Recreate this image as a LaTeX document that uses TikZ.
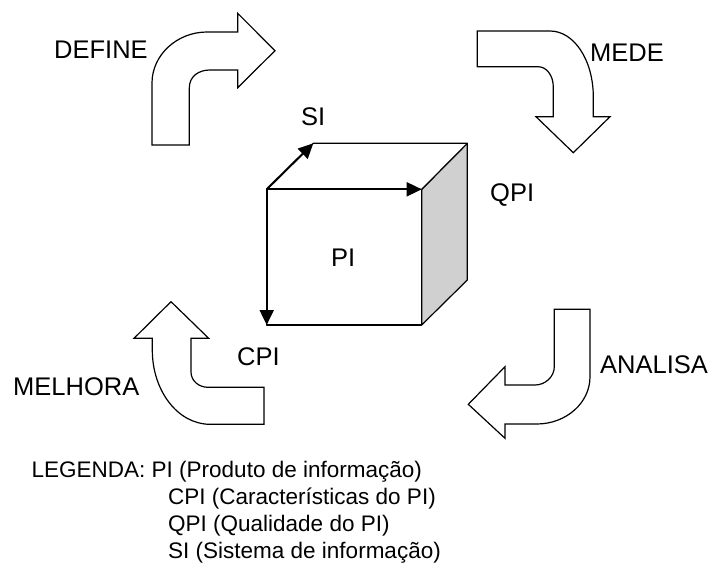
\documentclass[tikz,border=0pt]{standalone}
\usepackage{fontspec}
\setmainfont{Liberation Sans}
\usetikzlibrary{arrows.meta}
\definecolor{facegray}{RGB}{208,208,208}
\begin{document}
\begin{tikzpicture}[x=1pt,y=-1pt,
  bigarrow/.style={draw=black, line width=1.2pt, fill=white, line join=miter},
  cubeedge/.style={draw=black, line width=1.2pt, line join=round},
  axisarrow/.style={draw=black, line width=2pt, -{Triangle[length=15pt,width=14pt]}},
  lbl/.style={font=\fontsize{25.5}{30}\selectfont, inner sep=0pt, anchor=base west},
  leg/.style={font=\fontsize{22.5}{27}\selectfont, inner sep=0pt, anchor=base west}]
\useasboundingbox (0,0) rectangle (712,579);

% DEFINE arrow
\draw[bigarrow] (152,145) -- (152,83)
  .. controls (152,55) and (177,32) .. (207,32)
  -- (237.7,32) -- (237.7,13.3) -- (275,50.7) -- (237.7,87.7) -- (237.7,70)
  -- (210,70) .. controls (199,70) and (189.3,76) .. (189.3,88)
  -- (189.3,145) -- cycle;

% MEDE arrow
\draw[bigarrow] (477.3,31) -- (550,31)
  .. controls (574,31) and (593.3,60) .. (593.3,97)
  -- (593.3,116.7) -- (610,116.7) -- (573.3,152.7) -- (536,116.7) -- (553.3,116.7)
  -- (553.3,87) .. controls (553.3,76) and (547,66.7) .. (538,66.7)
  -- (477.3,66.7) -- cycle;

% ANALISA arrow
\draw[bigarrow] (554.3,309.3) -- (590,309.3) -- (590,376.7)
  .. controls (590,403) and (566,424) .. (536.7,424)
  -- (505,424) -- (505,438.3) -- (468.3,404.3) -- (505,366.7) -- (505,385)
  -- (535,385) .. controls (545,385) and (554.3,377) .. (554.3,366.7)
  -- cycle;

% MELHORA arrow
\draw[bigarrow] (171,301.7) -- (208.7,338.3) -- (191,338.3) -- (191,372)
  .. controls (191,381) and (199,387.3) .. (208,387.3)
  -- (264,387.3) -- (264,424.3) -- (210,424.3)
  .. controls (178,424.3) and (152.3,391) .. (152.3,350)
  -- (152.3,338.3) -- (134,338.3) -- cycle;

% cube corners
\coordinate (ftl) at (266.7,189.3);
\coordinate (ftr) at (421.7,189.3);
\coordinate (fbr) at (421.7,325);
\coordinate (fbl) at (266.7,325);
\coordinate (btl) at (313.3,143.3);
\coordinate (btr) at (467.3,143.3);
\coordinate (bbr) at (467.3,280);

\draw[cubeedge, fill=facegray] (ftr) -- (btr) -- (bbr) -- (fbr) -- cycle;
\draw[cubeedge, fill=white] (ftl) -- (btl) -- (btr) -- (ftr) -- cycle;
\draw[cubeedge, fill=white] (ftl) -- (ftr) -- (fbr) -- (fbl) -- cycle;

\draw[axisarrow] (ftl) -- (btl);
\draw[axisarrow] (ftl) -- (ftr);
\draw[axisarrow] (ftl) -- (fbl);

% labels
\node[lbl] (define) at (54,58.3) {DEFINE};
\node[lbl] (mede) at (590,61) {MEDE};
\node[lbl] (si) at (301,125) {SI};
\node[lbl] (qpi) at (490,201) {QPI};
\node[lbl] (pi) at (331,266.7) {PI};
\node[lbl] (cpi) at (237,365) {CPI};
\node[lbl] (melhora) at (13,395) {MELHORA};
\node[lbl] (analisa) at (600,373.3) {ANALISA};

% legend
\node[leg] (leg1) at (31.5,477) {LEGENDA: PI (Produto de informação)};
\node[leg] (leg2) at (168,504) {CPI (Características do PI)};
\node[leg] (leg3) at (168,531) {QPI (Qualidade do PI)};
\node[leg] (leg4) at (168,558) {SI (Sistema de informação)};
\end{tikzpicture}
\end{document}
